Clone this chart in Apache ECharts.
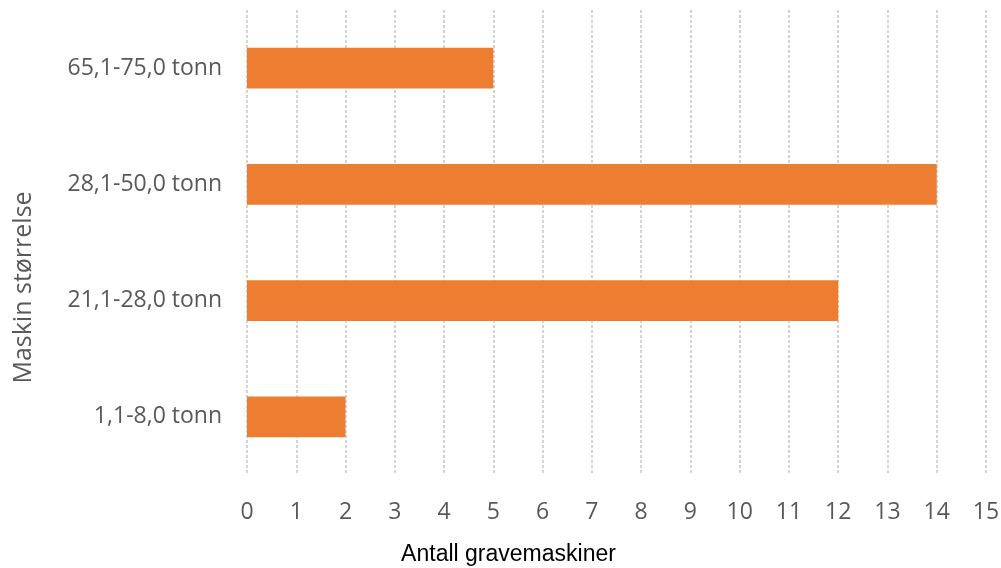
<!DOCTYPE html>
<html>
<head>
<meta charset="utf-8">
<script src="https://cdn.jsdelivr.net/npm/echarts@6/dist/echarts.min.js"></script>
<style>
  html, body { margin: 0; padding: 0; background: #ffffff; }
  #chart { width: 1001px; height: 568px; }
</style>
</head>
<body>
<div id="chart"></div>
<script>
// Machine size classes (bottom to top) and number of excavators in each
const categories = ['1,1-8,0 tonn', '21,1-28,0 tonn', '28,1-50,0 tonn', '65,1-75,0 tonn'];
const counts = [2, 12, 14, 5];
const xTicks = { min: 0, max: 15, interval: 1 };

const chart = echarts.init(document.getElementById('chart'), null, { renderer: 'canvas' });

chart.setOption({
  animation: false,
  backgroundColor: '#ffffff',
  grid: { left: 247, right: 15, top: 10, bottom: 93, containLabel: false, outerBoundsMode: 'none' },
  xAxis: {
    type: 'value',
    min: xTicks.min,
    max: xTicks.max,
    interval: xTicks.interval,
    name: 'Antall gravemaskiner',
    nameLocation: 'middle',
    nameGap: 68,
    nameTextStyle: { fontFamily: 'Liberation Sans', fontSize: 23, color: '#000000', padding: [0, 216, 0, 0] },
    axisLine: { show: false },
    axisTick: { show: false },
    axisLabel: { fontFamily: 'Open Sans', fontSize: 23, color: '#595959', margin: 26 },
    splitLine: { show: true, lineStyle: { color: '#c6c6c6', width: 1.5, type: [3, 2] } }
  },
  yAxis: {
    type: 'category',
    data: categories,
    name: 'Maskin størrelse',
    nameLocation: 'middle',
    nameGap: 211,
    nameRotate: 90,
    nameTextStyle: { fontFamily: 'Open Sans', fontSize: 25, color: '#595959', padding: [0, 90, 0, 0] },
    axisLine: { show: false },
    axisTick: { show: false },
    axisLabel: { fontFamily: 'Open Sans', fontSize: 23, color: '#595959', margin: 25 },
    splitLine: { show: false }
  },
  series: [{
    type: 'bar',
    data: counts,
    barWidth: '35%',
    itemStyle: { color: '#ED7D31' }
  }]
});
</script>
</body>
</html>
